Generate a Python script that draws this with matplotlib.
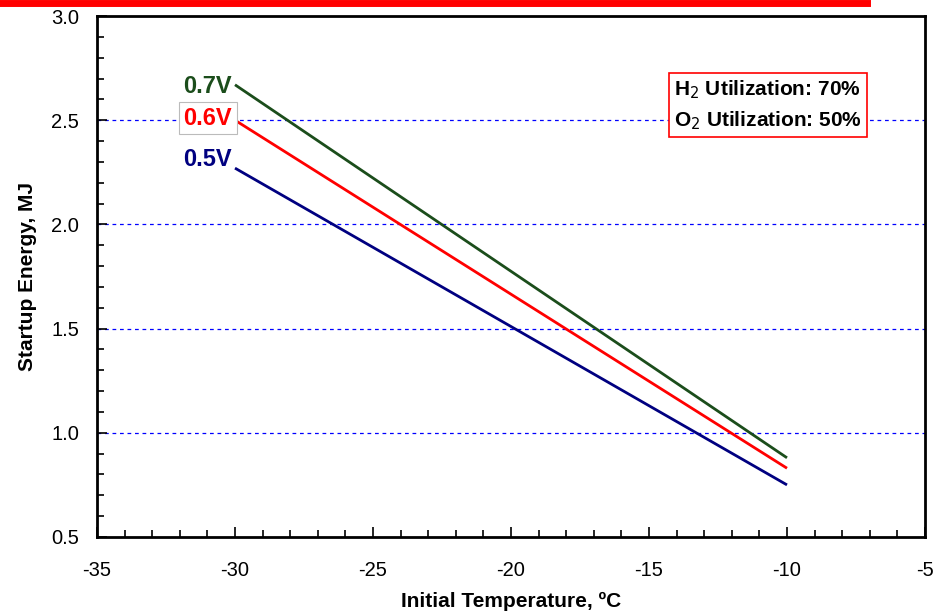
import matplotlib
matplotlib.use("Agg")
import matplotlib.pyplot as plt
from matplotlib.ticker import MultipleLocator
from matplotlib.lines import Line2D

plt.rcParams['font.family'] = ['Liberation Sans', 'DejaVu Sans']

temps = [-30, -10]
e_07 = [2.67, 0.88]
e_06 = [2.50, 0.83]
e_05 = [2.27, 0.75]
series_labels = ["0.7V", "0.6V", "0.5V"]
colors = ["#1b4d1b", "#ff0000", "#000080"]

fig = plt.figure(figsize=(9.42, 6.11), dpi=100)
ax = fig.add_axes([97/942, 1-537/611, (925-97)/942, (537-16)/611])

for ys, c in zip([e_07, e_06, e_05], colors):
    ax.plot(temps, ys, color=c, lw=2.0, solid_capstyle='butt')

ax.set_xlim(-35, -5)
ax.set_ylim(0.5, 3.0)
ax.xaxis.set_major_locator(MultipleLocator(5))
ax.xaxis.set_minor_locator(MultipleLocator(1))
ax.yaxis.set_major_locator(MultipleLocator(0.5))
ax.yaxis.set_minor_locator(MultipleLocator(0.1))
ax.xaxis.set_major_formatter(matplotlib.ticker.FuncFormatter(lambda v, p: f"{v:.0f}"))
ax.yaxis.set_major_formatter(matplotlib.ticker.FuncFormatter(lambda v, p: f"{v:.1f}"))
ax.tick_params(which='both', direction='in', width=1.2, labelsize=14.5)
ax.tick_params(which='major', length=7)
ax.tick_params(which='minor', length=5)
ax.tick_params(axis='x', which='major', pad=17)
ax.tick_params(axis='y', which='major', pad=13)
for s in ax.spines.values():
    s.set_linewidth(2)

for yv in [1.0, 1.5, 2.0, 2.5]:
    ax.axhline(yv, color='#0000ff', lw=0.9, ls=(0, (3, 3)), zorder=0)

ax.set_xlabel("Initial Temperature, \u00baC", fontsize=15, fontweight='bold', labelpad=9)
ax.set_ylabel("Startup Energy, MJ", fontsize=15, fontweight='bold', labelpad=10)

label_y = [2.66, 2.51, 2.31]
for lab, c, y in zip(series_labels, colors, label_y):
    kw = {}
    if lab == "0.6V":
        kw['bbox'] = dict(boxstyle='square,pad=0.2', fc='white', ec='#bbbbbb', lw=0.8)
    ax.text(-30.1, y, lab, color=c, fontsize=17, fontweight='bold',
            ha='right', va='center', **kw)

ax.text(0.81, 0.829, "H$_2$ Utilization: 70%\nO$_2$ Utilization: 50%",
        transform=ax.transAxes, ha='center', va='center', fontsize=15,
        fontweight='bold', linespacing=1.45,
        bbox=dict(boxstyle='square,pad=0.25', fc='white', ec='#ff0000', lw=1.2))

fig.add_artist(Line2D([0, 867/942], [1-3/611, 1-3/611], color='#ff0000', lw=5,
                      transform=fig.transFigure))

fig.savefig("out.png", dpi=100)
